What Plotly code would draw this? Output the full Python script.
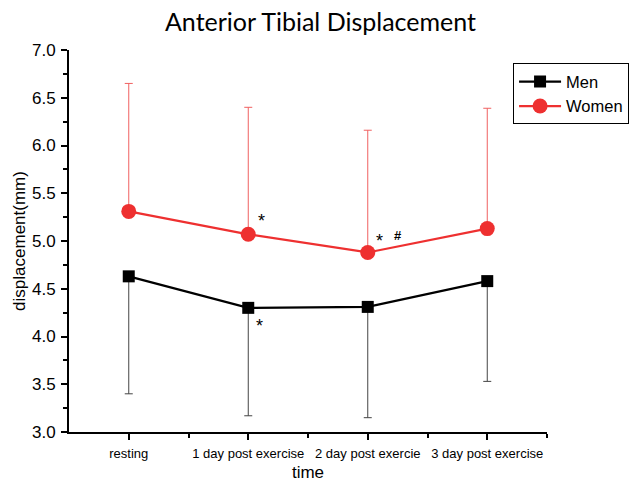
import plotly.graph_objects as go

categories = ["resting", "1 day post exercise", "2 day post exercie", "3 day post exercise"]
x_pos = [0, 1, 2, 3]
men_mean = [4.63, 4.30, 4.31, 4.58]
men_err_low = [1.23, 1.13, 1.16, 1.05]
women_mean = [5.31, 5.07, 4.88, 5.13]
women_err_up = [1.34, 1.33, 1.28, 1.26]
y_ticks = [3.0, 3.5, 4.0, 4.5, 5.0, 5.5, 6.0, 6.5, 7.0]

RED = "#ee3030"

fig = go.Figure()
fig.add_trace(go.Scatter(
    x=x_pos, y=men_mean, name="Men", mode="lines+markers",
    line=dict(color="black", width=2.2),
    marker=dict(symbol="square", size=12, color="black"),
    error_y=dict(type="data", symmetric=False, array=[0]*4, arrayminus=men_err_low,
                 color="#444444", thickness=1, width=4),
))
fig.add_trace(go.Scatter(
    x=x_pos, y=women_mean, name="Women", mode="lines+markers",
    line=dict(color=RED, width=2.2),
    marker=dict(symbol="circle", size=15, color=RED),
    error_y=dict(type="data", symmetric=False, array=women_err_up, arrayminus=[0]*4,
                 color="#f06060", thickness=1, width=4),
))

ann_font = dict(family="Liberation Sans, Arial", size=18, color="black")
annotations = [
    dict(x=1, y=women_mean[1], text="*", xshift=13, yshift=13),
    dict(x=1, y=men_mean[1], text="*", xshift=11, yshift=-18),
    dict(x=2, y=women_mean[2], text="*", xshift=12, yshift=11),
    dict(x=2, y=women_mean[2], text="<b>#</b>", xshift=30, yshift=17),
]
for a in annotations:
    a_font = dict(ann_font, size=13) if "#" in a["text"] else ann_font
    fig.add_annotation(xref="x", yref="y", showarrow=False, font=a_font, **a)

fig.update_layout(
    width=641, height=484,
    margin=dict(l=69, r=92, t=50, b=52),
    paper_bgcolor="white", plot_bgcolor="white",
    title=dict(text="Anterior Tibial Displacement", x=0.5, xanchor="center",
               y=0.955, yanchor="middle",
               font=dict(family="Lato, Open Sans", size=25, color="black")),
    font=dict(family="Liberation Sans, Arial", color="black"),
    legend=dict(x=0.929, y=0.965, xanchor="left", yanchor="top",
                bordercolor="black", borderwidth=1, bgcolor="white",
                font=dict(size=16.5), tracegroupgap=0, itemwidth=42),
    showlegend=True,
)
fig.update_xaxes(
    automargin=False,
    range=[-0.5, 3.5], tickmode="array", tickvals=x_pos, ticktext=categories,
    ticks="outside", ticklen=6, tickwidth=1.5, tickcolor="black",
    showline=True, linecolor="black", linewidth=2, showgrid=False, zeroline=False,
    tickfont=dict(size=13), ticklabelstandoff=2,
    minor=dict(tickvals=[0.5, 1.5, 2.5, 3.5], ticks="outside", ticklen=4, tickwidth=1.5, tickcolor="black"),
    title=dict(text="time", font=dict(size=17), standoff=7),
)
fig.update_yaxes(
    automargin=False,
    range=[3, 7], tickmode="array", tickvals=y_ticks, ticktext=[f"{v:.1f}" for v in y_ticks],
    ticks="outside", ticklen=6, tickwidth=1.5, tickcolor="black",
    showline=True, linecolor="black", linewidth=2, showgrid=False, zeroline=False,
    tickfont=dict(size=17), ticklabelstandoff=2,
    minor=dict(dtick=0.25, ticks="outside", ticklen=4, tickwidth=1.5, tickcolor="black"),
    title=dict(text="displacement(mm)", font=dict(size=17), standoff=2),
)

fig.write_html("out.html")
